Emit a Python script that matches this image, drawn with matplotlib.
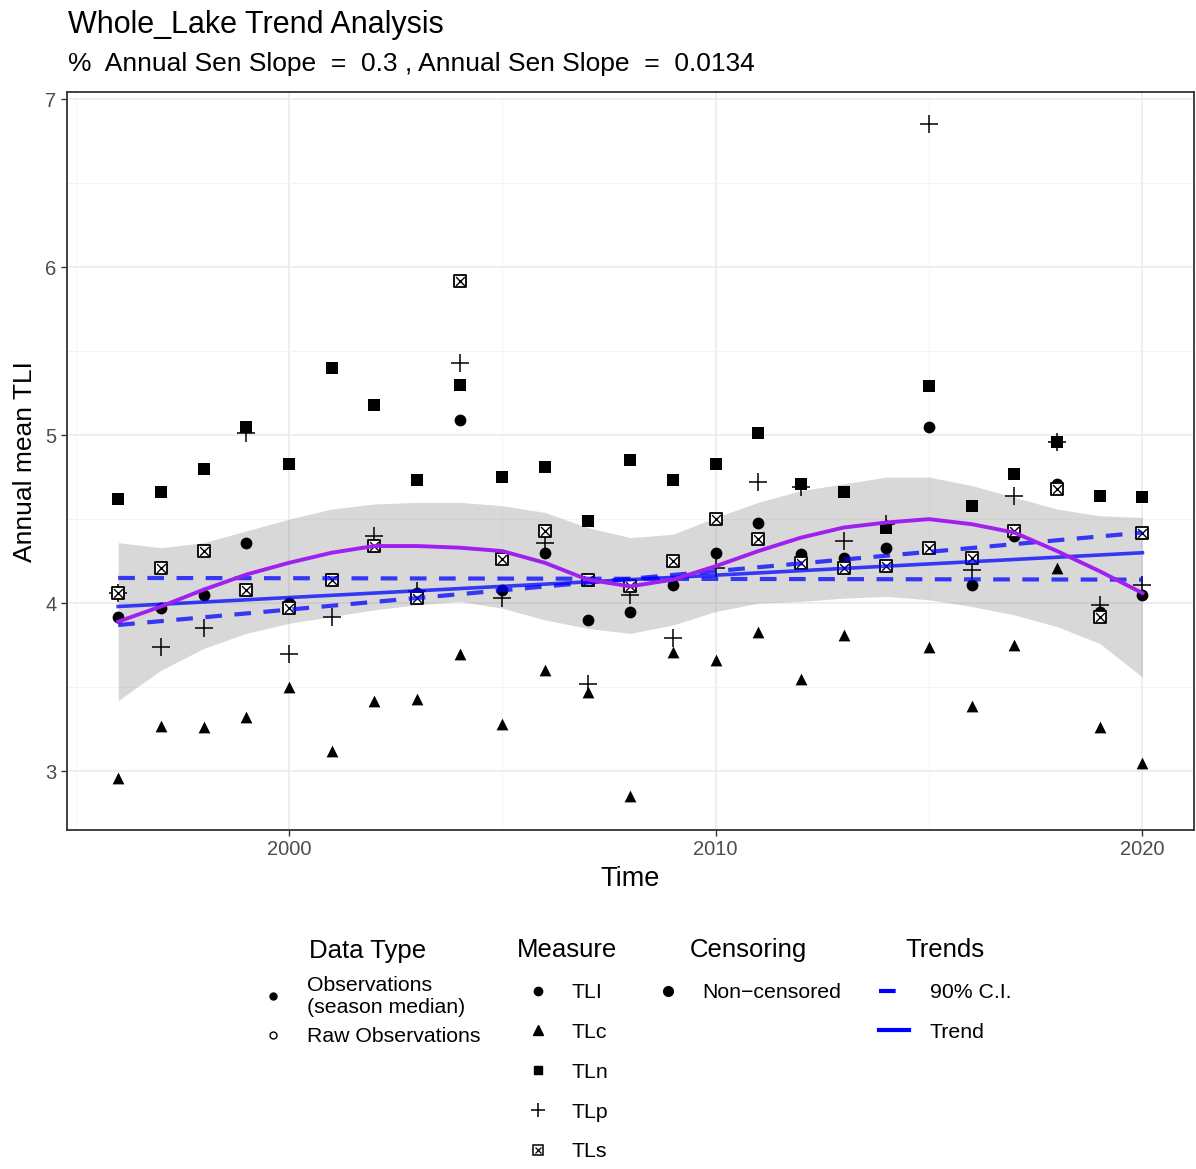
import matplotlib
matplotlib.use("Agg")
import matplotlib.pyplot as plt
from matplotlib.lines import Line2D
from matplotlib.legend_handler import HandlerTuple
import numpy as np

plt.rcParams['font.family'] = ['Liberation Sans', 'DejaVu Sans']

years = list(range(1996, 2021))

# annual values
tli = [3.92, 3.97, 4.05, 4.36, 4.00, 4.14, 4.34, 4.06, 5.09, 4.08, 4.30, 3.90, 3.95,
       4.11, 4.30, 4.48, 4.29, 4.27, 4.33, 5.05, 4.11, 4.40, 4.71, 3.95, 4.05]
tlc = [2.96, 3.27, 3.26, 3.32, 3.50, 3.12, 3.42, 3.43, 3.70, 3.28, 3.60, 3.47, 2.85,
       3.71, 3.66, 3.83, 3.55, 3.81, 4.47, 3.74, 3.39, 3.75, 4.21, 3.26, 3.05]
tln = [4.62, 4.66, 4.80, 5.05, 4.83, 5.40, 5.18, 4.73, 5.30, 4.75, 4.81, 4.49, 4.85,
       4.73, 4.83, 5.01, 4.71, 4.66, 4.45, 5.29, 4.58, 4.77, 4.96, 4.64, 4.63]
tlp = [4.06, 3.74, 3.85, 5.01, 3.70, 3.92, 4.40, 4.07, 5.43, 4.03, 4.36, 3.52, 4.05,
       3.79, 4.21, 4.72, 4.69, 4.37, 4.47, 6.85, 4.20, 4.64, 4.96, 3.99, 4.11]
tls = [4.06, 4.21, 4.31, 4.08, 3.97, 4.14, 4.34, 4.03, 5.92, 4.26, 4.43, 4.14, 4.10,
       4.25, 4.50, 4.38, 4.24, 4.21, 4.22, 4.33, 4.27, 4.43, 4.68, 3.92, 4.42]

# loess smooth and its band
smooth = [3.89, 3.98, 4.08, 4.17, 4.24, 4.30, 4.34, 4.34, 4.33, 4.31, 4.24, 4.14, 4.10,
          4.14, 4.22, 4.31, 4.39, 4.45, 4.48, 4.50, 4.47, 4.42, 4.31, 4.19, 4.06]
band_hi = [4.36, 4.33, 4.36, 4.43, 4.50, 4.56, 4.59, 4.60, 4.60, 4.58, 4.54, 4.45, 4.39,
           4.41, 4.51, 4.60, 4.67, 4.71, 4.75, 4.75, 4.70, 4.63, 4.56, 4.52, 4.51]
band_lo = [3.42, 3.60, 3.73, 3.82, 3.88, 3.92, 3.96, 3.99, 4.01, 3.97, 3.90, 3.85, 3.82,
           3.87, 3.95, 4.00, 4.01, 4.03, 4.04, 4.02, 3.98, 3.93, 3.86, 3.76, 3.56]

# sen slope trend and 90% CI (end points)
trend_x = [1996, 2020]
trend_y = [3.98, 4.30]
ci_lo_y = [4.15, 4.14]
ci_hi_y = [3.87, 4.42]

fig = plt.figure(figsize=(11.96, 11.69), dpi=100)
ax = fig.add_axes([0.056, 0.290, 0.942, 0.631])

ax.fill_between(years, band_lo, band_hi, color='grey', alpha=0.3, lw=0, zorder=1)

ms = 72
ax.scatter(years, tli, marker='o', s=ms, c='black', lw=0, zorder=3)
ax.scatter(years, tlc, marker='^', s=ms, c='black', lw=0, zorder=3)
ax.scatter(years, tln, marker='s', s=ms, c='black', lw=0, zorder=3)
ax.scatter(years, tlp, marker='+', s=170, c='black', lw=1.1, zorder=3)
ax.scatter(years, tls, marker='s', s=ms, facecolors='white', edgecolors='black', lw=1.3, zorder=3)
ax.scatter(years, tls, marker='x', s=40, c='black', lw=1.0, zorder=3)

ax.plot(trend_x, ci_lo_y, color='blue', lw=3, ls=(0, (4, 3)), alpha=0.75, zorder=4)
ax.plot(trend_x, ci_hi_y, color='blue', lw=3, ls=(0, (4, 3)), alpha=0.75, zorder=4)
ax.plot(trend_x, trend_y, color='blue', lw=2.6, alpha=0.75, zorder=4)
ax.plot(years, smooth, color='#A020F0', lw=2.8, zorder=5)

ax.set_xlim(1994.8, 2021.2)
ax.set_ylim(2.65, 7.04)
ax.set_xticks([2000, 2010, 2020])
ax.set_xticks([1995, 2005, 2015], minor=True)
ax.set_yticks([3, 4, 5, 6, 7])
ax.set_yticks([3.5, 4.5, 5.5, 6.5], minor=True)
ax.grid(which='major', color='#EBEBEB', lw=1.2, zorder=0)
ax.grid(which='minor', color='#F4F4F4', lw=0.7, zorder=0)
ax.set_axisbelow(True)
ax.tick_params(which='major', length=4, color='#333333', labelsize=14.5,
               labelcolor='#4D4D4D', width=1)
ax.tick_params(which='minor', length=0)
for s in ax.spines.values():
    s.set_color('#333333')
    s.set_linewidth(1.3)

ax.set_xlabel('Time', fontsize=19.5, labelpad=5)
ax.set_ylabel('Annual mean TLI', fontsize=19, labelpad=6)

fig.text(0.057, 0.972, 'Whole_Lake Trend Analysis', fontsize=22, va='baseline')
fig.text(0.057, 0.939, '%  Annual Sen Slope  =  0.3 , Annual Sen Slope  =  0.0134',
         fontsize=19, va='baseline')

# legends
leg_kw = dict(frameon=False, fontsize=15.3, title_fontsize=18.5, labelspacing=0.98,
              handletextpad=1.0, borderpad=0, loc='upper left')

# data type legend: title drawn by hand so the two-line entry sits level with the others
dtype_h = [Line2D([], [], ls='', marker='o', ms=5, color='black'),
           Line2D([], [], ls='', marker='o', ms=5, mfc='white', mec='black', mew=1)]
dkw = dict(leg_kw, labelspacing=0.5)
leg1 = fig.legend(dtype_h, ['Observations\n(season median)', 'Raw Observations'],
                  bbox_to_anchor=(0.209, 0.1745), handlelength=1.2, **dkw)
fig.text(0.3077, 0.1868, 'Data Type', fontsize=18.5, ha='center', va='center')

meas_h = [Line2D([], [], ls='', marker='o', ms=6, color='black'),
          Line2D([], [], ls='', marker='^', ms=7, color='black'),
          Line2D([], [], ls='', marker='s', ms=6, color='black'),
          Line2D([], [], ls='', marker='+', ms=10, mew=1.1, color='black'),
          (Line2D([], [], ls='', marker='s', ms=6.5, mfc='white', mec='black', mew=1.1),
           Line2D([], [], ls='', marker='x', ms=4.5, mew=0.9, color='black'))]
leg2 = fig.legend(meas_h, ['TLI', 'TLc', 'TLn', 'TLp', 'TLs'], title='Measure',
                  bbox_to_anchor=(0.423, 0.2065), handlelength=1.2,
                  handler_map={tuple: HandlerTuple(ndivide=1)}, **leg_kw)

cens_h = [Line2D([], [], ls='', marker='o', ms=7, color='black')]
leg3 = fig.legend(cens_h, ['Non\u2212censored'], title='Censoring',
                  bbox_to_anchor=(0.539, 0.2065), handlelength=1.2, **leg_kw)

trend_h = [Line2D([], [], color='blue', lw=3, ls=(0, (4, 10))),
           Line2D([], [], color='blue', lw=3)]
leg4 = fig.legend(trend_h, ['90% C.I.', 'Trend'], title='Trends',
                  bbox_to_anchor=(0.726, 0.2065), handlelength=1.4, **leg_kw)

fig.savefig('out.png', dpi=100)
